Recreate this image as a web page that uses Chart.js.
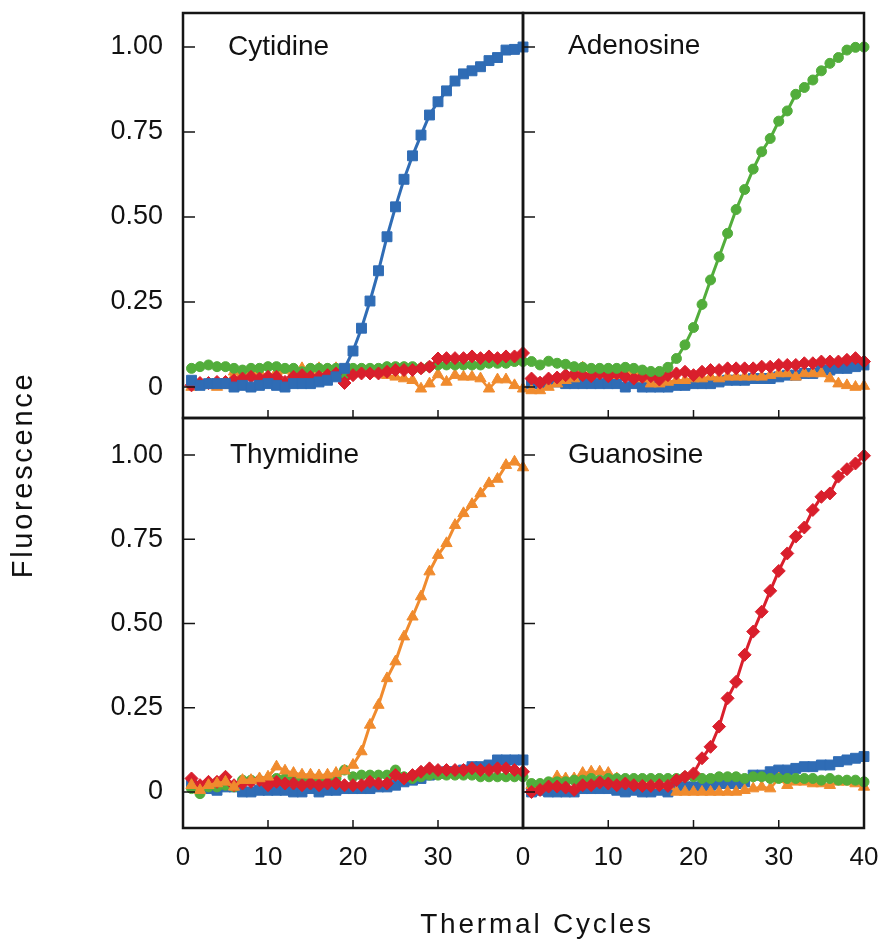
<!DOCTYPE html>
<html>
<head>
<meta charset="utf-8">
<title>Fluorescence vs Thermal Cycles</title>
<script src="https://cdn.jsdelivr.net/npm/chart.js@4.4.1/dist/chart.umd.min.js"></script>
<style>
    body { margin: 0; background: #ffffff; }
    #wrap { position: relative; width: 882px; height: 948px; overflow: hidden; font-family: 'Liberation Sans', Arial, sans-serif; color: #111; }
    #wrap canvas { position: absolute; left: 0; top: 0; }
    .panelName { position: absolute; font-size: 28px; line-height: 28px; white-space: nowrap; }
    #yTitle { position: absolute; left: -128px; top: 461px; width: 300px; text-align: center; font-size: 29px; line-height: 28px; letter-spacing: 2.7px; transform: rotate(-90deg); }
    #xTitle { position: absolute; left: 337px; top: 910px; width: 400px; text-align: center; font-size: 28px; line-height: 28px; letter-spacing: 2.8px; }
</style>
</head>
<body>
<div id="wrap">
    <canvas id="cytChart" width="882" height="948"></canvas>
    <canvas id="adeChart" width="882" height="948"></canvas>
    <canvas id="thyChart" width="882" height="948"></canvas>
    <canvas id="guaChart" width="882" height="948"></canvas>
    <div class="panelName" style="left:228px; top:32px;">Cytidine</div>
    <div class="panelName" style="left:568px; top:31px;">Adenosine</div>
    <div class="panelName" style="left:230px; top:440px;">Thymidine</div>
    <div class="panelName" style="left:568px; top:440px;">Guanosine</div>
    <div id="yTitle">Fluorescence</div>
    <div id="xTitle">Thermal Cycles</div>
</div>
<script>
// Cycle numbers (x values)
const cycles = [1, 2, 3, 4, 5, 6, 7, 8, 9, 10, 11, 12, 13, 14, 15, 16, 17, 18, 19, 20,
    21, 22, 23, 24, 25, 26, 27, 28, 29, 30, 31, 32, 33, 34, 35, 36, 37, 38, 39, 40];

// Tick labels
const yTickValues = [0, 0.25, 0.5, 0.75, 1];
const xTicksLeft = [0, 10, 20, 30];
const xTicksRight = [0, 10, 20, 30, 40];

// Cytidine panel
const cytBlue = [0.02, 0.005, 0.01, 0.01, 0.01, 0.0, 0.005, 0.0, 0.005, 0.01, 0.005, 0.0, 0.01, 0.01, 0.01, 0.015, 0.02, 0.03,
    0.055, 0.106, 0.173, 0.253, 0.342, 0.442, 0.530, 0.611, 0.680, 0.741, 0.800, 0.839, 0.871, 0.900, 0.921, 0.930, 0.942, 0.960, 0.969, 0.991, 0.993, 1.00];
const cytGreen = [0.055, 0.06, 0.065, 0.06, 0.06, 0.055, 0.05, 0.055, 0.055, 0.06, 0.06, 0.055, 0.055, 0.045, 0.055, 0.055, 0.055, 0.055, 0.035, 0.055,
    0.055, 0.055, 0.055, 0.06, 0.06, 0.06, 0.06, 0.055, 0.06, 0.065, 0.065, 0.065, 0.065, 0.065, 0.065, 0.07, 0.07, 0.07, 0.075, 0.075];
const cytRed = [0.005, 0.012, 0.012, 0.015, 0.015, 0.02, 0.025, 0.03, 0.025, 0.03, 0.03, 0.015, 0.03, 0.035, 0.03, 0.03, 0.035, 0.04, 0.012, 0.035,
    0.04, 0.04, 0.04, 0.045, 0.05, 0.05, 0.05, 0.055, 0.06, 0.084, 0.085, 0.085, 0.085, 0.09, 0.085, 0.09, 0.085, 0.09, 0.09, 0.10];
const cytOrange = [0.0, 0.01, 0.005, 0.0, 0.005, 0.045, 0.04, 0.05, 0.045, 0.03, 0.045, 0.05, 0.045, 0.055, 0.05, 0.055, 0.05, 0.055, 0.04, 0.045,
    0.045, 0.045, 0.04, 0.035, 0.03, 0.025, 0.02, -0.005, 0.01, 0.037, 0.015, 0.035, 0.03, 0.03, 0.025, -0.005, 0.022, 0.022, 0.005, -0.005];

// Adenosine panel
const adeGreen = [0.075, 0.065, 0.076, 0.07, 0.067, 0.06, 0.058, 0.055, 0.055, 0.055, 0.055, 0.058, 0.055, 0.05, 0.046, 0.046, 0.058, 0.084, 0.124, 0.175,
    0.243, 0.315, 0.383, 0.452, 0.522, 0.581, 0.641, 0.692, 0.731, 0.782, 0.812, 0.861, 0.881, 0.903, 0.930, 0.952, 0.969, 0.991, 0.999, 1.0];
const adeRed = [0.025, 0.013, 0.025, 0.028, 0.035, 0.038, 0.035, 0.032, 0.04, 0.032, 0.04, 0.03, 0.025, 0.03, 0.032, 0.022, 0.035, 0.04, 0.045, 0.035,
    0.045, 0.05, 0.05, 0.055, 0.055, 0.055, 0.055, 0.06, 0.06, 0.065, 0.065, 0.065, 0.07, 0.07, 0.075, 0.075, 0.075, 0.08, 0.085, 0.075];
const adeBlue = [0.011, 0.01, 0.015, 0.015, 0.01, 0.01, 0.01, 0.01, 0.01, 0.01, 0.01, 0.0, 0.01, 0.0, 0.0, 0.0, 0.0, 0.005, 0.005, 0.01,
    0.01, 0.01, 0.015, 0.02, 0.02, 0.02, 0.025, 0.025, 0.025, 0.03, 0.035, 0.035, 0.04, 0.04, 0.05, 0.05, 0.055, 0.055, 0.06, 0.065];
const adeOrange = [-0.01, -0.01, 0.0, 0.01, 0.02, 0.025, 0.057, 0.043, 0.043, 0.04, 0.035, 0.05, 0.045, 0.025, 0.01, 0.01, 0.015, 0.02, 0.02, 0.025,
    0.025, 0.03, 0.025, 0.03, 0.03, 0.03, 0.03, 0.03, 0.035, 0.04, 0.04, 0.03, 0.04, 0.04, 0.04, 0.025, 0.01, 0.005, 0.0, 0.003];

// Thymidine panel
const thyOrange = [0.02, 0.005, 0.02, 0.025, 0.03, 0.015, 0.035, 0.035, 0.04, 0.045, 0.075, 0.063, 0.056, 0.051, 0.051, 0.049, 0.051, 0.056, 0.063, 0.08,
    0.12, 0.199, 0.258, 0.337, 0.387, 0.461, 0.52, 0.58, 0.654, 0.703, 0.738, 0.792, 0.827, 0.854, 0.886, 0.916, 0.929, 0.97, 0.98, 0.963];
const thyBlue = [0.025, 0.015, 0.01, 0.005, 0.015, 0.015, 0.0, 0.0, 0.005, 0.005, 0.005, 0.005, 0.0, 0.0, 0.01, 0.0, 0.005, 0.005, 0.01, 0.01,
    0.01, 0.01, 0.015, 0.015, 0.02, 0.03, 0.035, 0.04, 0.05, 0.055, 0.06, 0.06, 0.065, 0.075, 0.075, 0.08, 0.095, 0.095, 0.095, 0.095];
const thyRed = [0.04, 0.02, 0.03, 0.03, 0.045, 0.02, 0.025, 0.03, 0.035, 0.02, 0.03, 0.025, 0.025, 0.02, 0.025, 0.02, 0.025, 0.025, 0.02, 0.02,
    0.02, 0.03, 0.025, 0.025, 0.05, 0.04, 0.05, 0.06, 0.07, 0.065, 0.065, 0.065, 0.065, 0.07, 0.065, 0.065, 0.07, 0.07, 0.065, 0.06];
const thyGreen = [0.01, -0.005, 0.015, 0.015, 0.02, 0.015, 0.035, 0.035, 0.035, 0.035, 0.04, 0.04, 0.04, 0.035, 0.035, 0.035, 0.035, 0.04, 0.065, 0.045,
    0.05, 0.05, 0.05, 0.05, 0.065, 0.045, 0.04, 0.045, 0.05, 0.05, 0.05, 0.05, 0.05, 0.05, 0.045, 0.045, 0.045, 0.045, 0.045, 0.045];

// Guanosine panel
const guaRed = [0.0, 0.006, 0.016, 0.016, 0.013, 0.006, 0.02, 0.02, 0.028, 0.025, 0.02, 0.025, 0.02, 0.018, 0.018, 0.02, 0.018, 0.035, 0.045, 0.055,
    0.10, 0.134, 0.194, 0.278, 0.327, 0.407, 0.476, 0.535, 0.597, 0.656, 0.708, 0.758, 0.785, 0.837, 0.876, 0.886, 0.936, 0.958, 0.975, 0.998];
const guaBlue = [0.0, 0.005, 0.0, 0.0, 0.0, 0.0, 0.01, 0.01, 0.01, 0.01, 0.005, 0.0, 0.005, 0.0, 0.0, 0.005, 0.0, 0.015, 0.015, 0.015,
    0.015, 0.02, 0.025, 0.025, 0.025, 0.03, 0.05, 0.05, 0.06, 0.065, 0.065, 0.07, 0.075, 0.075, 0.08, 0.08, 0.09, 0.095, 0.10, 0.105];
const guaGreen = [0.025, 0.025, 0.03, 0.03, 0.03, 0.035, 0.035, 0.04, 0.035, 0.04, 0.04, 0.04, 0.04, 0.04, 0.04, 0.04, 0.04, 0.04, 0.045, 0.045,
    0.04, 0.04, 0.045, 0.045, 0.045, 0.04, 0.045, 0.045, 0.04, 0.04, 0.04, 0.04, 0.04, 0.04, 0.035, 0.04, 0.035, 0.035, 0.035, 0.03];
const guaOrange = [0.02, 0.02, 0.025, 0.046, 0.04, 0.04, 0.056, 0.06, 0.06, 0.056, 0.04, 0.03, 0.025, 0.025, 0.025, 0.02, 0.02, 0.0, 0.0, 0.0,
    0.0, 0.0, 0.0, 0.0, 0.0, 0.005, 0.01, 0.015, 0.01, 0.04, 0.02, 0.03, 0.03, 0.025, 0.025, 0.02, 0.03, 0.03, 0.025, 0.015];

// Marker style per colour
const seriesStyle = {
    blue:   { color: '#2f6cb5', pointStyle: 'rect', radius: 7 },
    green:  { color: '#52ad3b', pointStyle: 'circle', radius: 5 },
    red:    { color: '#d91f2c', pointStyle: 'rectRot', radius: 6.5 },
    orange: { color: '#f08b2e', pointStyle: 'triangle', radius: 6.5 }
};

const Y_AXIS_W = 100;
const X_AXIS_H = 60;

Chart.defaults.font.family = "'Liberation Sans', Arial, sans-serif";
Chart.defaults.color = '#111';

// Draws the panel frame and the inward tick marks
const panelFrame = {
    id: 'panelFrame',
    afterDatasetsDraw(chart) {
        const ctx = chart.ctx;
        const a = chart.chartArea;
        const x = chart.scales.x;
        const y = chart.scales.y;
        ctx.save();
        ctx.strokeStyle = '#151515';
        ctx.lineWidth = 1.5;
        ctx.beginPath();
        yTickValues.forEach(function (v) {
            const py = y.getPixelForValue(v);
            ctx.moveTo(a.left, py);
            ctx.lineTo(a.left + 12, py);
        });
        [10, 20, 30].forEach(function (v) {
            const px = x.getPixelForValue(v);
            ctx.moveTo(px, a.bottom);
            ctx.lineTo(px, a.bottom - 8);
        });
        ctx.stroke();
        ctx.lineWidth = 2.5;
        ctx.strokeRect(a.left, a.top, a.right - a.left, a.bottom - a.top);
        ctx.restore();
    }
};

function makeDataset(values, colorName, isMain) {
    const s = seriesStyle[colorName];
    return {
        data: cycles.map(function (c, i) { return { x: c, y: values[i] }; }),
        borderColor: s.color,
        backgroundColor: s.color,
        pointBackgroundColor: s.color,
        pointBorderColor: s.color,
        pointBorderWidth: 1,
        pointStyle: s.pointStyle,
        pointRadius: s.radius,
        borderWidth: isMain ? 3 : 2.5,
        tension: 0,
        clip: false
    };
}

function makePanel(canvasId, box, yRange, showY, showX, xTicks, datasets) {
    const ctx = document.getElementById(canvasId).getContext('2d');
    new Chart(ctx, {
        type: 'line',
        data: { datasets: datasets },
        options: {
            responsive: false,
            animation: false,
            devicePixelRatio: 1,
            layout: {
                padding: {
                    left: showY ? box.left - Y_AXIS_W : box.left,
                    top: box.top,
                    right: 882 - box.right,
                    bottom: showX ? 948 - box.bottom - X_AXIS_H : 948 - box.bottom
                }
            },
            plugins: {
                legend: { display: false },
                tooltip: { enabled: false }
            },
            scales: {
                x: {
                    type: 'linear',
                    min: 0,
                    max: 40,
                    display: showX,
                    grid: { display: false, drawTicks: false },
                    border: { display: false },
                    afterBuildTicks: function (axis) {
                        axis.ticks = xTicks.map(function (v) { return { value: v }; });
                    },
                    afterFit: function (scale) {
                        if (!showX) return;
                        scale.height = X_AXIS_H;
                        scale.paddingLeft = 0;
                        scale.paddingRight = 0;
                    },
                    ticks: {
                        autoSkip: false,
                        maxRotation: 0,
                        padding: 14,
                        font: { size: 26 },
                        color: '#111'
                    }
                },
                y: {
                    type: 'linear',
                    min: yRange[0],
                    max: yRange[1],
                    display: showY,
                    grid: { display: false, drawTicks: true, tickLength: 20 },
                    border: { display: false },
                    afterBuildTicks: function (axis) {
                        axis.ticks = yTickValues.map(function (v) { return { value: v }; });
                    },
                    afterFit: function (scale) {
                        if (!showY) return;
                        scale.width = Y_AXIS_W;
                        scale.paddingTop = 0;
                        scale.paddingBottom = 0;
                    },
                    ticks: {
                        padding: 0,
                        font: { size: 27 },
                        color: '#111',
                        callback: function (v) { return v === 0 ? '0' : Number(v).toFixed(2); }
                    }
                }
            }
        },
        plugins: [panelFrame]
    });
}

document.addEventListener('DOMContentLoaded', function () {
    const topRange = [-0.091, 1.1];
    const bottomRange = [-0.107, 1.11];

    // Top left: Cytidine (main curve listed first so it is drawn on top)
    makePanel('cytChart', { left: 183, right: 523, top: 13, bottom: 418 }, topRange, true, false, xTicksLeft, [
        makeDataset(cytBlue, 'blue', true),
        makeDataset(cytRed, 'red', false),
        makeDataset(cytGreen, 'green', false),
        makeDataset(cytOrange, 'orange', false)
    ]);

    // Top right: Adenosine
    makePanel('adeChart', { left: 523, right: 864, top: 13, bottom: 418 }, topRange, false, false, xTicksRight, [
        makeDataset(adeGreen, 'green', true),
        makeDataset(adeRed, 'red', false),
        makeDataset(adeOrange, 'orange', false),
        makeDataset(adeBlue, 'blue', false)
    ]);

    // Bottom left: Thymidine
    makePanel('thyChart', { left: 183, right: 523, top: 418, bottom: 828 }, bottomRange, true, true, xTicksLeft, [
        makeDataset(thyOrange, 'orange', true),
        makeDataset(thyRed, 'red', false),
        makeDataset(thyGreen, 'green', false),
        makeDataset(thyBlue, 'blue', false)
    ]);

    // Bottom right: Guanosine
    makePanel('guaChart', { left: 523, right: 864, top: 418, bottom: 828 }, bottomRange, false, true, xTicksRight, [
        makeDataset(guaRed, 'red', true),
        makeDataset(guaGreen, 'green', false),
        makeDataset(guaOrange, 'orange', false),
        makeDataset(guaBlue, 'blue', false)
    ]);
});
</script>
</body>
</html>
